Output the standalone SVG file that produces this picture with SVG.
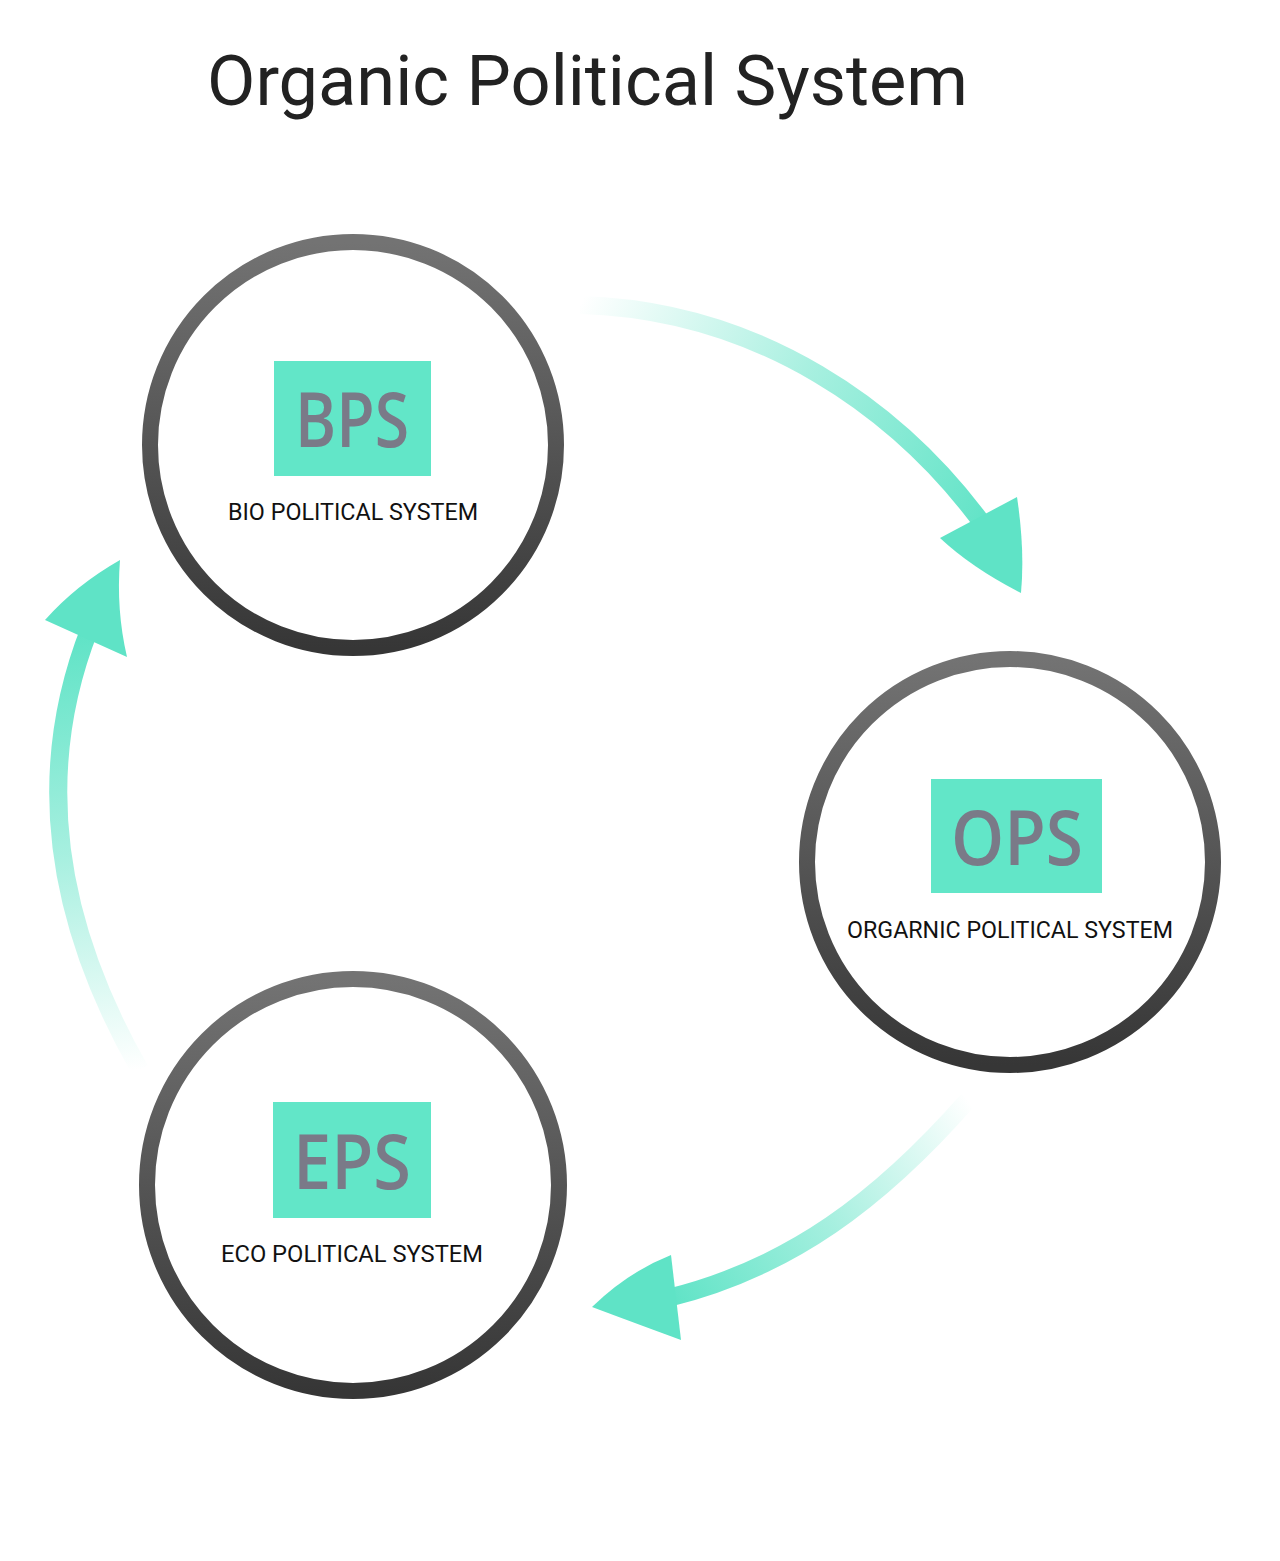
<svg xmlns="http://www.w3.org/2000/svg" width="1280" height="1561" viewBox="0 0 1280 1561">
<style>
.title{font-family:Roboto,"Liberation Sans",sans-serif;font-size:70px;fill:#222222}
.abbr{font-family:"Open Sans","Noto Sans",sans-serif;font-size:76px;font-weight:600;fill:#7a7a88;text-anchor:middle}
.lbl{font-family:Roboto,"Liberation Sans",sans-serif;font-size:23px;fill:#111111;text-anchor:middle}
.ring{fill:#ffffff;stroke-width:16}
.box{fill:#62e6c8}
.head{fill:#5fe3c6}
.body{fill:none;stroke-width:18}
</style>
<defs>
<linearGradient id="ringG" x1="0" y1="0" x2="0" y2="1">
<stop offset="0" stop-color="#737373"/>
<stop offset="1" stop-color="#363636"/>
</linearGradient>
<linearGradient id="a1" gradientUnits="userSpaceOnUse" x1="580" y1="305" x2="995" y2="525">
<stop offset="0" stop-color="#5fe3c6" stop-opacity="0"/>
<stop offset="0.5" stop-color="#5fe3c6" stop-opacity="0.55"/>
<stop offset="1" stop-color="#5fe3c6" stop-opacity="1"/>
</linearGradient>
<linearGradient id="a2" gradientUnits="userSpaceOnUse" x1="968" y1="1100" x2="668" y2="1298">
<stop offset="0" stop-color="#5fe3c6" stop-opacity="0"/>
<stop offset="0.5" stop-color="#5fe3c6" stop-opacity="0.55"/>
<stop offset="1" stop-color="#5fe3c6" stop-opacity="1"/>
</linearGradient>
<linearGradient id="a3" gradientUnits="userSpaceOnUse" x1="140" y1="1070" x2="90" y2="630">
<stop offset="0" stop-color="#5fe3c6" stop-opacity="0"/>
<stop offset="0.5" stop-color="#5fe3c6" stop-opacity="0.55"/>
<stop offset="1" stop-color="#5fe3c6" stop-opacity="1"/>
</linearGradient>
</defs>
<rect width="1280" height="1561" fill="#ffffff"/>
<text class="title" x="207" y="105" textLength="761" lengthAdjust="spacingAndGlyphs">Organic Political System</text>
<g id="connectors">
<g id="arrow-bps-ops">
<path class="body" stroke="url(#a1)" d="M 580 305 C 760 310 900 410 985 527"/>
<path class="head" d="M 940 538 L 1017 497 Q 1025 550 1021 593 Q 972 568 940 538 Z"/>
</g>
<g id="arrow-ops-eps">
<path class="body" stroke="url(#a2)" d="M 968 1100 C 880 1200 790 1268 668 1298"/>
<path class="head" d="M 671 1255 L 681 1340 Q 632 1322 592 1307 Q 628 1272 671 1255 Z"/>
</g>
<g id="arrow-eps-bps">
<path class="body" stroke="url(#a3)" d="M 140 1070 C 60 930 30 780 90 628"/>
<path class="head" d="M 45 620 L 127 657 Q 116 610 120 560 Q 76 585 45 620 Z"/>
</g>
</g>
<g id="node-bps">
<circle class="ring" stroke="url(#ringG)" cx="353" cy="445" r="203"/>
<rect class="box" x="274" y="361" width="157" height="115"/>
<text class="abbr" x="352" y="447" textLength="114" lengthAdjust="spacingAndGlyphs">BPS</text>
<text class="lbl" x="353" y="520" textLength="250" lengthAdjust="spacingAndGlyphs">BIO POLITICAL SYSTEM</text>
</g>
<g id="node-ops">
<circle class="ring" stroke="url(#ringG)" cx="1010" cy="862" r="203"/>
<rect class="box" x="931" y="779" width="171" height="114"/>
<text class="abbr" x="1017" y="865" textLength="132" lengthAdjust="spacingAndGlyphs">OPS</text>
<text class="lbl" x="1010" y="938" textLength="326" lengthAdjust="spacingAndGlyphs">ORGARNIC POLITICAL SYSTEM</text>
</g>
<g id="node-eps">
<circle class="ring" stroke="url(#ringG)" cx="353" cy="1185" r="206"/>
<rect class="box" x="273" y="1102" width="158" height="116"/>
<text class="abbr" x="352" y="1189" textLength="118" lengthAdjust="spacingAndGlyphs">EPS</text>
<text class="lbl" x="352" y="1262" textLength="262" lengthAdjust="spacingAndGlyphs">ECO POLITICAL SYSTEM</text>
</g>
</svg>
